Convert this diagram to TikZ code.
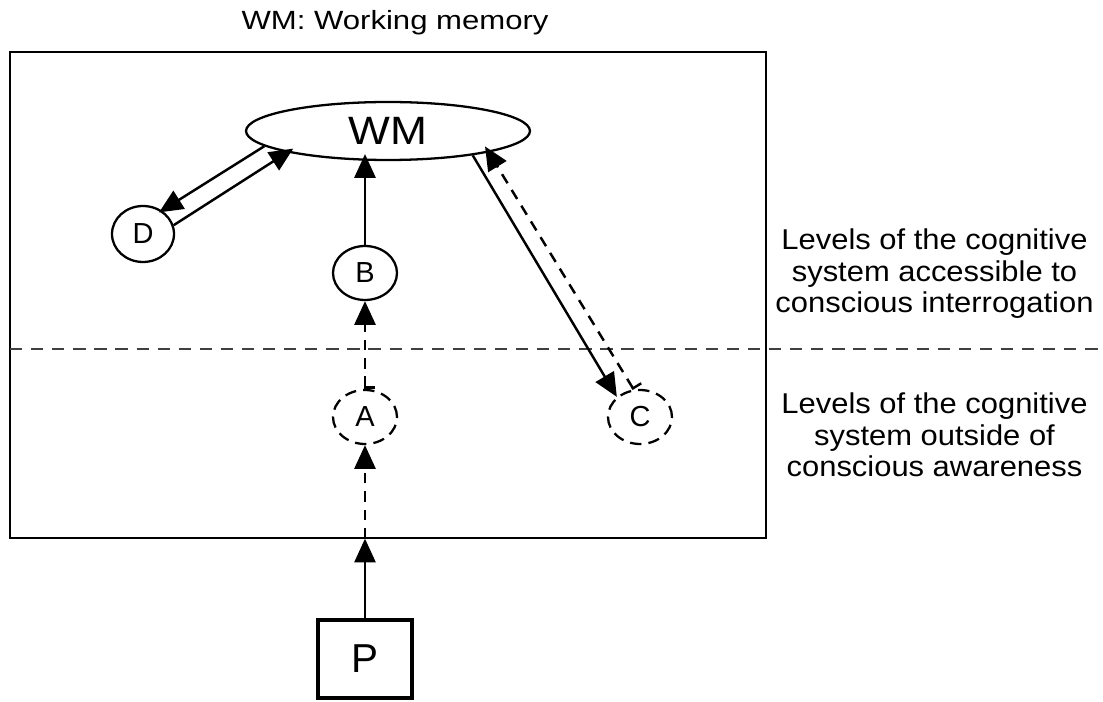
\documentclass[tikz,border=0pt]{standalone}
\usepackage{graphicx}
\usepackage{fontspec}
\setmainfont{Liberation Sans}
\usetikzlibrary{shapes.geometric,arrows.meta}
\begin{document}
\begin{tikzpicture}[x=0.02cm,y=-0.02cm,
  ell/.style={ellipse,draw,line width=1.3pt,inner sep=0pt,font=\fontsize{16.5}{18}\selectfont},
  dell/.style={ell,dash pattern=on 6.5pt off 4pt},
  conn/.style={line width=1.4pt,-{Triangle[length=13.5pt,width=12pt]}},
  dconn/.style={conn,dash pattern=on 6pt off 4.5pt},
  dconnbar/.style={dconn,{Bar[width=11pt,harpoon]}-{Triangle[length=13.5pt,width=12pt]}},
  into/.style={shorten >=-4pt},
  lbl/.style={inner sep=0pt,font=\fontsize{16.3}{17.9}\selectfont},
  ]
\useasboundingbox (0,0) rectangle (1103,702);
% frame and divider
\node[draw,line width=0.8pt,minimum width=15.12cm,minimum height=9.72cm,inner sep=0pt] (frame) at (388,295) {};
\draw[line width=0.7pt,black!75,dash pattern=on 7pt off 5pt] (10,349) -- (1103,349);
% title and labels
\node[anchor=base,inner sep=0pt,font=\fontsize{15}{17}\selectfont] (title) at (395,30) {\scalebox{1.18}[1]{WM: Working memory}};
\node[lbl] (acc) at (934.5,275) {\scalebox{1.08}[1]{\begin{tabular}{@{}c@{}}Levels of the cognitive\\system accessible to\\conscious interrogation\end{tabular}}};
\node[lbl] (out) at (934.5,439) {\scalebox{1.08}[1]{\begin{tabular}{@{}c@{}}Levels of the cognitive\\system outside of\\conscious awareness\end{tabular}}};
% nodes
\node[ell,minimum width=5.68cm,minimum height=1.16cm,font=\fontsize{22.5}{24}\selectfont] (wm) at (388,131) {\scalebox{1.12}[1]{WM}};
\node[ell,minimum width=1.24cm,minimum height=1.12cm] (d) at (143,234) {D};
\node[ell,minimum width=1.28cm,minimum height=1.08cm] (b) at (365,273) {B};
\node[dell,minimum width=1.28cm,minimum height=1.08cm] (a) at (365,417) {A};
\node[dell,minimum width=1.28cm,minimum height=1.08cm] (c) at (640,417) {C};
\node[draw,line width=2.8pt,minimum width=1.88cm,minimum height=1.56cm,inner sep=0pt,font=\fontsize{23}{26}\selectfont] (p) at (365,659) {P};
\coordinate (entry) at (p.north |- frame.south);
% connectors
\draw[conn] (p.north) -- (entry);
\draw[dconn] (entry) -- (a.south);
\draw[dconnbar] (a.north) -- (b.south);
\draw[conn,into] (b.north) -- (b.north |- wm.south);
\draw[conn,shorten >=-2pt] (wm.187) -- (d.51.7);
\draw[conn,into] (d.16.3) -- (wm.192.5);
\draw[conn] (wm.344.4) -- (c.139.2);
\draw[dconnbar,into] (c.103.6) -- (wm.348.4);
\end{tikzpicture}
\end{document}
